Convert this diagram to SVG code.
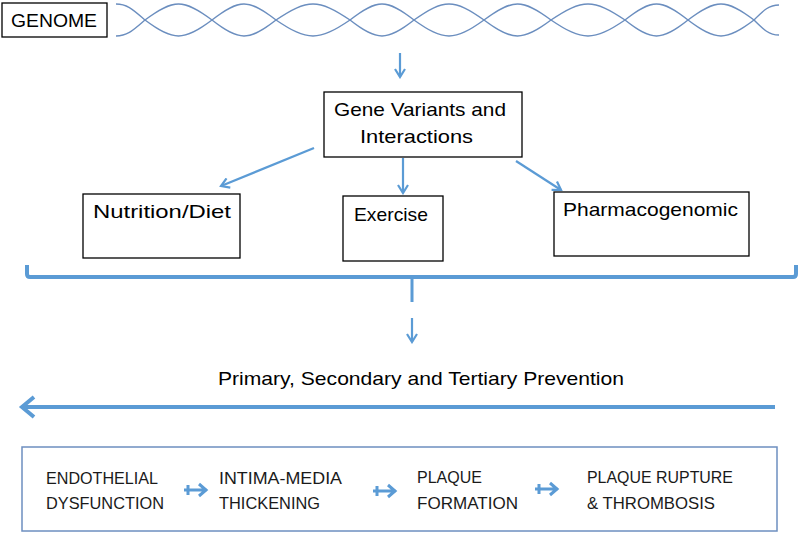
<svg xmlns="http://www.w3.org/2000/svg" width="800" height="533" viewBox="0 0 800 533">
<style>
.box{fill:#fff;stroke:#000;stroke-width:1.3}
.t{font-family:"Liberation Sans",Arial,sans-serif;font-size:19px;fill:#000}
.tb{font-family:"Liberation Sans",Arial,sans-serif;font-size:17px;fill:#1a1a1a}
.helix{fill:none;stroke:#6b8ebf;stroke-width:1.4}
.con{fill:none;stroke:#5b9bd5;stroke-width:2.2}
.thick{fill:none;stroke:#5b9bd5;stroke-width:4}
.sa{fill:none;stroke:#5b9bd5;stroke-width:3}
</style>
<defs>
<marker id="ah" viewBox="0 0 12 12" refX="10" refY="6" markerWidth="12" markerHeight="12" markerUnits="userSpaceOnUse" orient="auto">
<path d="M2,1 L10,6 L2,11" fill="none" stroke="#5b9bd5" stroke-width="2.2"/>
</marker>
</defs>

<g id="genome">
<rect class="box" x="2" y="3" width="105" height="34"/>
<text class="t" x="11" y="27" textLength="86" lengthAdjust="spacingAndGlyphs">GENOME</text>
</g>

<g id="dna">
<path class="helix" d="M116,4 C127.6,4 133.4,10 145,20 C173.4,41.3 183.6,41.3 212,20 C239.2,-1.3 248.8,-1.3 276,20 C307.4,41.3 318.6,41.3 350,20 C377.2,-1.3 386.8,-1.3 414,20 C443.7,41.3 454.3,41.3 484,20 C512.4,-1.3 522.6,-1.3 551,20 C582.4,41.3 593.6,41.3 625,20 C651.7,-1.3 661.3,-1.3 688,20 C716,41.3 726,41.3 754,20 C764,10 769,5 779,5"/>
<path class="helix" d="M116,36 C127.6,36 133.4,30 145,20 C173.4,-1.3 183.6,-1.3 212,20 C239.2,41.3 248.8,41.3 276,20 C307.4,-1.3 318.6,-1.3 350,20 C377.2,41.3 386.8,41.3 414,20 C443.7,-1.3 454.3,-1.3 484,20 C512.4,41.3 522.6,41.3 551,20 C582.4,-1.3 593.6,-1.3 625,20 C651.7,41.3 661.3,41.3 688,20 C716,-1.3 726,-1.3 754,20 C764,30 769,35 779,35"/>
</g>

<g id="gene">
<rect class="box" x="324" y="92" width="198" height="65"/>
<text class="t" x="334" y="116" textLength="172" lengthAdjust="spacingAndGlyphs">Gene Variants and</text>
<text class="t" x="360" y="143" textLength="113" lengthAdjust="spacingAndGlyphs">Interactions</text>
</g>

<g id="nutrition">
<rect class="box" x="83" y="194" width="157" height="64"/>
<text class="t" x="93" y="218" textLength="138" lengthAdjust="spacingAndGlyphs">Nutrition/Diet</text>
</g>
<g id="exercise">
<rect class="box" x="343" y="196" width="100" height="65"/>
<text class="t" x="354" y="221" textLength="74" lengthAdjust="spacingAndGlyphs">Exercise</text>
</g>
<g id="pharma">
<rect class="box" x="554" y="192" width="195" height="64"/>
<text class="t" x="563" y="216" textLength="175" lengthAdjust="spacingAndGlyphs">Pharmacogenomic</text>
</g>

<g id="prevention">
<text class="t" x="218" y="385" textLength="406" lengthAdjust="spacingAndGlyphs">Primary, Secondary and Tertiary Prevention</text>
</g>

<g id="stages">
<rect x="22" y="447" width="755" height="84" fill="#fff" stroke="#6d8fc0" stroke-width="1.5"/>
<text class="tb" x="46" y="484" textLength="112" lengthAdjust="spacingAndGlyphs">ENDOTHELIAL</text>
<text class="tb" x="46" y="509" textLength="118" lengthAdjust="spacingAndGlyphs">DYSFUNCTION</text>
<text class="tb" x="219" y="484" textLength="123" lengthAdjust="spacingAndGlyphs">INTIMA-MEDIA</text>
<text class="tb" x="219" y="509" textLength="101" lengthAdjust="spacingAndGlyphs">THICKENING</text>
<text class="tb" x="417" y="483" textLength="65" lengthAdjust="spacingAndGlyphs">PLAQUE</text>
<text class="tb" x="417" y="509" textLength="101" lengthAdjust="spacingAndGlyphs">FORMATION</text>
<text class="tb" x="587" y="483" textLength="146" lengthAdjust="spacingAndGlyphs">PLAQUE RUPTURE</text>
<text class="tb" x="587" y="509" textLength="128" lengthAdjust="spacingAndGlyphs">&amp; THROMBOSIS</text>
</g>

<g id="connectors">
<path class="con" d="M400,53 V77" marker-end="url(#ah)"/>
<path class="con" d="M314,148 L221,186" marker-end="url(#ah)"/>
<path class="con" d="M403,158 V193" marker-end="url(#ah)"/>
<path class="con" d="M516,161 L561,190" marker-end="url(#ah)"/>
<path class="thick" d="M27,265 V274 Q27,277 30,277 H793 Q796,277 796,274 V265"/>
<path class="thick" d="M412,277 V302" style="stroke-width:3"/>
<path class="con" d="M412,318 V342" marker-end="url(#ah)"/>
<path class="thick" d="M775,407 H23"/>
<path class="thick" d="M34,397 L22,407 L34,417"/>
<path class="sa" d="M184,490 H207 M188,485 V495 M199,484 L206,490 L199,496"/>
<path class="sa" d="M373,491 H396 M377,486 V496 M388,485 L395,491 L388,497"/>
<path class="sa" d="M535,489 H558 M539,484 V494 M550,483 L557,489 L550,495"/>
</g>
</svg>
